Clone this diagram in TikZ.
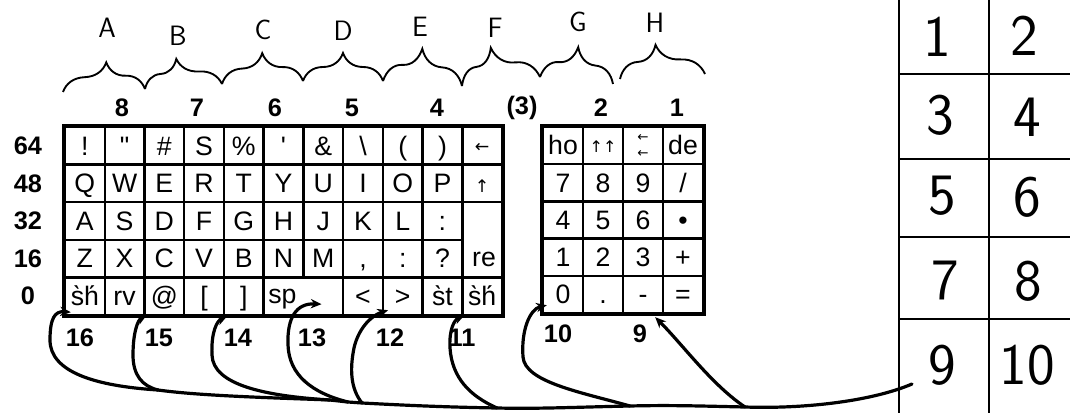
\documentclass[tikz,border=0pt]{standalone}
\usepackage{fontspec}
\setmainfont{Liberation Sans}
\newfontfamily\symf{DejaVu Sans}
\usetikzlibrary{arrows.meta,decorations.pathreplacing,calc}

% one key of the main block: name, row, column, text
\newcommand\kbkey[4]{\node[key] (#1) at ({65+(#3-0.5)*39.73},{127+(#2-0.5)*37.6}) {#4};}
% one key of the number pad: name, row, column, text
\newcommand\padkey[4]{\node[padkey] (#1) at ({543+(#3-0.5)*40},{127+(#2-0.5)*37.2}) {#4};}

\begin{document}
\begin{tikzpicture}[x=0.75pt,y=-0.75pt,
  keybox/.style={draw, line width=1.8pt, minimum width=29.8pt, minimum height=28.2pt,
              inner sep=0pt, align=center, font=\fontsize{20}{20}\selectfont},
  key/.style={keybox, text height=14pt, text depth=0pt},
  padbox/.style={keybox, minimum width=30pt, minimum height=27.9pt},
  padkey/.style={key, minimum width=30pt, minimum height=27.9pt},
  keytext/.style={inner sep=0pt, font=\fontsize{20}{20}\selectfont},
  frame/.style={line width=2.6pt},
  num/.style={font=\fontsize{19}{19}\selectfont\bfseries, inner sep=0pt},
  hand/.style={font=\sffamily\fontsize{21}{21}\selectfont, inner sep=0pt},
  cellnum/.style={font=\sffamily\fontsize{44}{44}\selectfont, inner sep=0pt},
  wire/.style={line width=2.4pt, line cap=round, line join=round},
  feed/.style={wire, -{Stealth[length=8pt,width=7pt]}},
  brc/.style={decorate, line width=1.4pt},
  rule/.style={line width=1.6pt}]

\useasboundingbox (0,0) rectangle (1070,413);

% ---- group braces A..H ----
\coordinate (b0) at (63,92);
\coordinate (b1) at (145,89);
\coordinate (b2) at (222,84);
\coordinate (b3) at (303,81);
\coordinate (b4) at (383,81);
\coordinate (b5) at (462,86);
\coordinate (b6) at (540,77);
\coordinate (b7) at (613,84);
\coordinate (b8) at (620,79);
\coordinate (b9) at (705,74);
\draw[brc, decoration={brace, amplitude=21pt, aspect=0.54}] (b0) -- (b1);
\draw[brc, decoration={brace, amplitude=21pt, aspect=0.43}] (b1) -- (b2);
\draw[brc, decoration={brace, amplitude=22pt, aspect=0.51}] (b2) -- (b3);
\draw[brc, decoration={brace, amplitude=21pt, aspect=0.5}] (b3) -- (b4);
\draw[brc, decoration={brace, amplitude=26pt, aspect=0.47}] (b4) -- (b5);
\draw[brc, decoration={brace, amplitude=26pt, aspect=0.42}] (b5) -- (b6);
\draw[brc, decoration={brace, amplitude=25pt, aspect=0.48}] (b6) -- (b7);
\draw[brc, decoration={brace, amplitude=24pt, aspect=0.44}] (b8) -- (b9);

\node[hand] (gA) at (107,28) {A};
\node[hand] (gB) at (178,36) {B};
\node[hand] (gC) at (263,30) {C};
\node[hand] (gD) at (343,31) {D};
\node[hand] (gE) at (420,27) {E};
\node[hand] (gF) at (495,28) {F};
\node[hand] (gG) at (578,22) {G};
\node[hand] (gH) at (655,23) {H};

% ---- column numbers ----
\node[num] (c8) at (122,108) {8};
\node[num] (c7) at (197,108) {7};
\node[num] (c6) at (275,108) {6};
\node[num] (c5) at (352,108) {5};
\node[num] (c4) at (437,108) {4};
\node[num] (c3) at (522,108) {(3)};
\node[num] (c2) at (601,108) {2};
\node[num] (c1) at (677,108) {1};

% ---- row values ----
\node[num] (v64) at (28,{127+0.5*37.6}) {64};
\node[num] (v48) at (28,{127+1.5*37.6}) {48};
\node[num] (v32) at (28,{127+2.5*37.6}) {32};
\node[num] (v16) at (28,{127+3.5*37.6}) {16};
\node[num] (v0)  at (28,{127+4.5*37.6}) {0};

% ---- main key block ----
\kbkey{L1-1}{1}{1}{!}
\kbkey{L1-2}{1}{2}{\textquotedbl}
\kbkey{L1-3}{1}{3}{\#}
\kbkey{L1-4}{1}{4}{S}
\kbkey{L1-5}{1}{5}{\%}
\kbkey{L1-6}{1}{6}{\textquotesingle}
\kbkey{L1-7}{1}{7}{\&}
\kbkey{L1-8}{1}{8}{\textbackslash}
\kbkey{L1-9}{1}{9}{(}
\kbkey{L1-10}{1}{10}{)}
\kbkey{L1-11}{1}{11}{\symf\fontsize{13}{13}\selectfont\raisebox{2pt}{←}}

\kbkey{L2-1}{2}{1}{Q}
\kbkey{L2-2}{2}{2}{W}
\kbkey{L2-3}{2}{3}{E}
\kbkey{L2-4}{2}{4}{R}
\kbkey{L2-5}{2}{5}{T}
\kbkey{L2-6}{2}{6}{Y}
\kbkey{L2-7}{2}{7}{U}
\kbkey{L2-8}{2}{8}{I}
\kbkey{L2-9}{2}{9}{O}
\kbkey{L2-10}{2}{10}{P}
\kbkey{L2-11}{2}{11}{\symf\fontsize{13}{13}\selectfont ↑}

\kbkey{L3-1}{3}{1}{A}
\kbkey{L3-2}{3}{2}{S}
\kbkey{L3-3}{3}{3}{D}
\kbkey{L3-4}{3}{4}{F}
\kbkey{L3-5}{3}{5}{G}
\kbkey{L3-6}{3}{6}{H}
\kbkey{L3-7}{3}{7}{J}
\kbkey{L3-8}{3}{8}{K}
\kbkey{L3-9}{3}{9}{L}
\kbkey{L3-10}{3}{10}{:}

\kbkey{L4-1}{4}{1}{Z}
\kbkey{L4-2}{4}{2}{X}
\kbkey{L4-3}{4}{3}{C}
\kbkey{L4-4}{4}{4}{V}
\kbkey{L4-5}{4}{5}{B}
\kbkey{L4-6}{4}{6}{N}
\kbkey{L4-7}{4}{7}{M}
\kbkey{L4-8}{4}{8}{,}
\kbkey{L4-9}{4}{9}{:}
\kbkey{L4-10}{4}{10}{?}
% return key spans two rows
\node[keybox, minimum height=56.4pt] (re) at ({65+10.5*39.73},{127+3*37.6}) {};
\node[keytext, anchor=base] (re-t) at (484,267) {re};

\kbkey{shL}{5}{1}{s̀h́}
\kbkey{rv}{5}{2}{rv}
\kbkey{atk}{5}{3}{@}
\kbkey{lbr}{5}{4}{[}
\kbkey{rbr}{5}{5}{]}
\node[keybox, minimum width=59.6pt] (sp) at ({65+6*39.73},{127+4.5*37.6}) {};
\node[keytext, anchor=base west] (sp-t) at (268,303) {sp};
\kbkey{ltk}{5}{8}{<}
\kbkey{gtk}{5}{9}{>}
\kbkey{stk}{5}{10}{s̀t}
\kbkey{shR}{5}{11}{s̀h́}

\draw[frame] (L1-1.north west) rectangle (shR.south east);

% ---- number pad ----
\padkey{P1-1}{1}{1}{ho}
\padkey{P1-2}{1}{2}{\symf\fontsize{12}{12}\selectfont\raisebox{2pt}{↑↑}}
\node[padbox, font=\symf\fontsize{10}{11}\selectfont] (P1-3) at ({543+2.5*40},{127+0.5*37.2}) {←\\[1pt]←};
\padkey{P1-4}{1}{4}{de}
\padkey{P2-1}{2}{1}{7}
\padkey{P2-2}{2}{2}{8}
\padkey{P2-3}{2}{3}{9}
\padkey{P2-4}{2}{4}{/}
\padkey{P3-1}{3}{1}{4}
\padkey{P3-2}{3}{2}{5}
\padkey{P3-3}{3}{3}{6}
\padkey{P3-4}{3}{4}{\textbullet}
\padkey{P4-1}{4}{1}{1}
\padkey{P4-2}{4}{2}{2}
\padkey{P4-3}{4}{3}{3}
\padkey{P4-4}{4}{4}{+}
\padkey{P5-1}{5}{1}{0}
\padkey{P5-2}{5}{2}{.}
\padkey{P5-3}{5}{3}{-}
\padkey{P5-4}{5}{4}{=}

\draw[frame] (P1-1.north west) rectangle (P5-4.south east);

% ---- line numbers under the keys ----
\node[num] (n16) at (80,338) {16};
\node[num] (n15) at (159,338) {15};
\node[num] (n14) at (238,338) {14};
\node[num] (n13) at (312,338) {13};
\node[num] (n12) at (390,338) {12};
\node[num] (n11) at (462,338) {11};
\node[num] (n10) at (558,334) {10};
\node[num] (n9)  at (640,334) {9};

% ---- feed lines ----
\coordinate (tip16) at ($(shL.south west)+(7,-4)$);
\coordinate (tip15) at ($(rv.south east)+(1,-1)$);
\coordinate (tip14) at ($(lbr.south east)+(2,0)$);
\coordinate (tip13) at ($(sp.south west)+(59,-12)$);
\coordinate (tip12) at ($(ltk.south east)+(4,-6)$);
\coordinate (tip11) at ($(stk.south east)+(1,-1)$);
\coordinate (tip10) at ($(P5-1.south west)+(5,-9)$);
\coordinate (tip9)  at ($(P5-3.south east)+(-9,3)$);

\coordinate (src) at (912,384);
\coordinate (j9)  at (745,407);
\coordinate (j10) at (630,406);
\coordinate (j11) at (497,408);
\coordinate (j12) at (362,403);
\coordinate (j13) at (348,402);
\coordinate (j14) at (330,400);
\coordinate (j15) at (158,390);

\draw[wire] (src) .. controls (870,402) and (800,409) .. (j9)
  .. controls (700,406) and (670,405) .. (j10)
  .. controls (580,407) and (540,409) .. (j11)
  .. controls (440,407) and (400,405) .. (j12) -- (j13) -- (j14)
  .. controls (280,398) and (200,396) .. (j15);

\coordinate (w16) at (50,340);
\coordinate (w15) at (133,355);
\coordinate (w14) at (212,355);
\coordinate (w13) at (288,345);
\coordinate (w12) at (354,348);
\coordinate (w11) at (450,348);
\coordinate (w10) at (523,357);

\draw[feed] (j15) .. controls (95,386) and (50,372) .. (w16)
  .. controls (50,318) and (55,311) .. (tip16);
\draw[feed] (j15) .. controls (142,386) and (133,375) .. (w15)
  .. controls (133,332) and (138,320) .. (tip15);
\draw[feed] (j14) .. controls (265,396) and (213,385) .. (w14)
  .. controls (211,332) and (217,321) .. (tip14);
\draw[feed] (j13) .. controls (312,393) and (289,375) .. (w13)
  .. controls (287,318) and (296,303) .. (tip13);
\draw[feed] (j12) .. controls (350,388) and (350,368) .. (w12)
  .. controls (358,330) and (370,316) .. (tip12);
\draw[feed] (j11) .. controls (470,396) and (452,378) .. (w11)
  .. controls (449,330) and (454,320) .. (tip11);
\draw[feed] (j10) .. controls (580,392) and (525,382) .. (w10)
  .. controls (521,330) and (530,309) .. (tip10);
\draw[feed] (j9) .. controls (712,385) and (683,345) .. (tip9);

% ---- numbered table ----
\draw[rule] (899,0) -- (899,413);
\draw[line width=0.9pt] (989,0) -- (989,413);
\draw[rule] (899,74) -- (1070,74);
\draw[rule] (899,159) -- (1070,159);
\draw[rule] (899,237) -- (1070,237);
\draw[rule] (899,319) -- (1070,319);

\node[cellnum] (t1)  at (937,37)  {1};
\node[cellnum] (t2)  at (1024,36) {2};
\node[cellnum] (t3)  at (940,115) {3};
\node[cellnum] (t4)  at (1027,117) {4};
\node[cellnum] (t5)  at (942,196) {5};
\node[cellnum] (t6)  at (1027,197) {6};
\node[cellnum] (t7)  at (945,280) {7};
\node[cellnum] (t8)  at (1028,281) {8};
\node[cellnum] (t9)  at (942,365) {9};
\node[cellnum] (t10) at (1027,365) {10};

\end{tikzpicture}
\end{document}
